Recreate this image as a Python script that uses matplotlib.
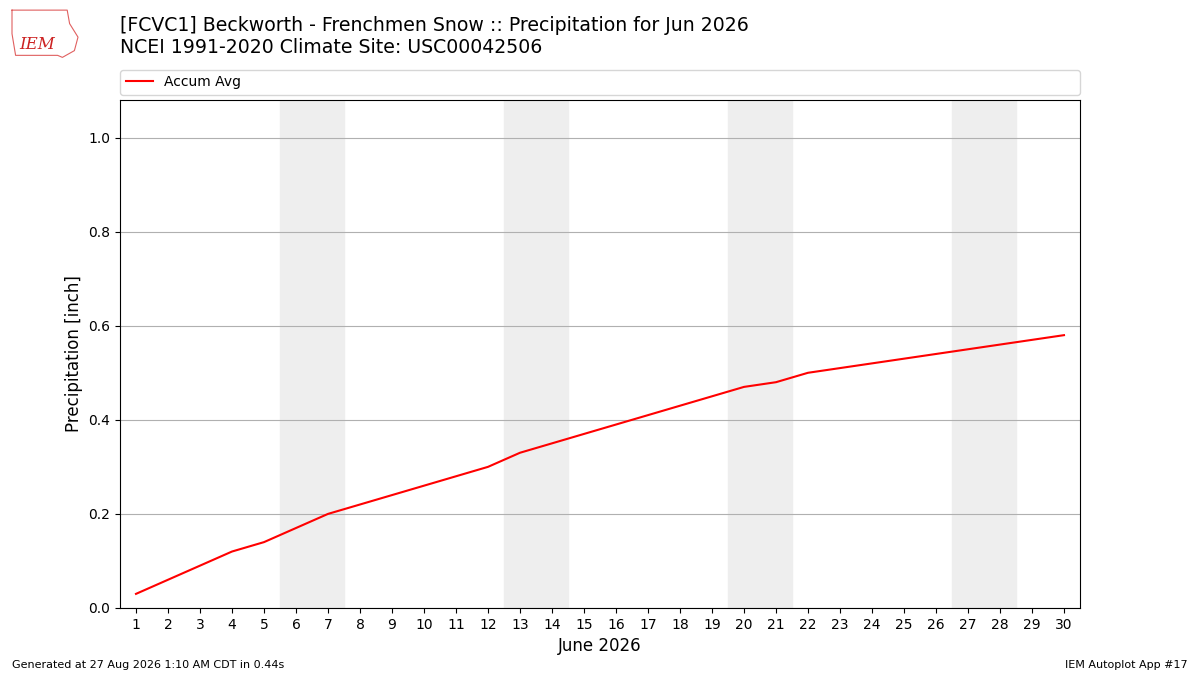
import matplotlib
matplotlib.use("Agg")
from matplotlib import pyplot as plt

days = list(range(1, 31))
accum_avg = [0.03, 0.06, 0.09, 0.12, 0.14, 0.17, 0.20, 0.22, 0.24, 0.26,
             0.28, 0.30, 0.33, 0.35, 0.37, 0.39, 0.41, 0.43, 0.45, 0.47,
             0.48, 0.50, 0.51, 0.52, 0.53, 0.54, 0.55, 0.56, 0.57, 0.58]
weekends = [(6, 7), (13, 14), (20, 21), (27, 28)]

title = ("[FCVC1] Beckworth - Frenchmen Snow :: Precipitation for Jun 2026\n"
         "NCEI 1991-2020 Climate Site: USC00042506")

fig = plt.figure(figsize=(12, 6.75), dpi=100)
ax = fig.add_axes([0.1, 0.0993, 0.8, 0.7526])

for a, b in weekends:
    ax.axvspan(a - 0.5, b + 0.5, color="#eeeeee", zorder=0)

ax.plot(days, accum_avg, color="r", lw=1.5, label="Accum Avg", zorder=3)

ax.set_xlim(0.5, 30.5)
ax.set_ylim(0, 1.08)
ax.set_xticks(days)
ax.set_yticks([0, 0.2, 0.4, 0.6, 0.8, 1.0])
ax.yaxis.grid(True, color="#b0b0b0")
ax.set_axisbelow(True)
ax.set_xlabel("June 2026", fontsize=12)
ax.set_ylabel("Precipitation [inch]", fontsize=12)

ax.legend(loc="lower left", bbox_to_anchor=(0, 1.01, 1, 0.05), mode="expand",
          ncol=1, fontsize=10, borderaxespad=0)

fig.text(0.1, 0.915, title, fontsize=13.6, va="bottom", ha="left")

# rough stand-in for the IEM logo (state outline + letters)
lx = [0.010, 0.056, 0.058, 0.065, 0.062, 0.052, 0.048, 0.013, 0.010, 0.010]
ly = [0.985, 0.985, 0.965, 0.945, 0.925, 0.915, 0.918, 0.918, 0.950, 0.985]
fig.add_artist(plt.Line2D(lx, ly, color="#e06060", lw=0.8))
fig.text(0.031, 0.934, "IEM", color="#cc2222", fontsize=12, family="serif",
         style="italic", ha="center", va="center")

fig.text(0.01, 0.01, "Generated at 27 Aug 2026 1:10 AM CDT in 0.44s", fontsize=8)
fig.text(0.99, 0.01, "IEM Autoplot App #17", fontsize=8, ha="right")

fig.savefig("out.png", dpi=100)
